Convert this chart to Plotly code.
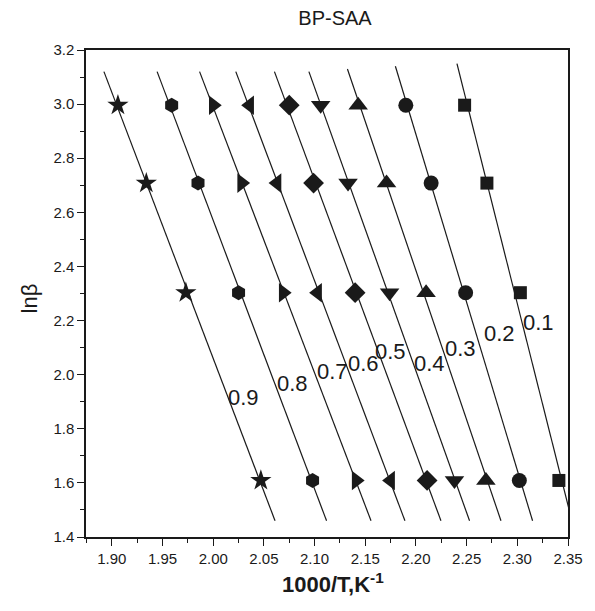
import numpy as np
import plotly.graph_objects as go

# ---- data ----
ln_beta = [2.996, 2.708, 2.303, 1.609]
conversions = ["0.9", "0.8", "0.7", "0.6", "0.5", "0.4", "0.3", "0.2", "0.1"]
x_09 = [1.906, 1.934, 1.973, 2.047]
x_08 = [1.959, 1.985, 2.025, 2.098]
x_07 = [2.000, 2.028, 2.069, 2.141]
x_06 = [2.036, 2.063, 2.103, 2.175]
x_05 = [2.075, 2.099, 2.140, 2.211]
x_04 = [2.106, 2.133, 2.174, 2.238]
x_03 = [2.143, 2.171, 2.210, 2.269]
x_02 = [2.190, 2.215, 2.249, 2.302]
x_01 = [2.248, 2.270, 2.303, 2.341]
series_x = [x_09, x_08, x_07, x_06, x_05, x_04, x_03, x_02, x_01]
symbols = ["star", "hexagon", "triangle-right", "triangle-left", "diamond",
           "triangle-down", "triangle-up", "circle", "square"]
marker_sizes = [16, 15, 17, 17, 16, 17, 17, 15, 13]
# vertical extent of each fitted line (ln beta)
line_top = [3.12, 3.12, 3.12, 3.12, 3.12, 3.12, 3.13, 3.14, 3.15]
line_bottom = [1.46, 1.46, 1.46, 1.46, 1.46, 1.46, 1.46, 1.46, 1.46]
# label anchor positions (x, y)
label_x = [2.030, 2.078, 2.118, 2.148, 2.175, 2.213, 2.244, 2.282, 2.321]
label_y = [1.917, 1.969, 2.010, 2.043, 2.084, 2.043, 2.098, 2.154, 2.194]

x_ticks = [1.90, 1.95, 2.00, 2.05, 2.10, 2.15, 2.20, 2.25, 2.30, 2.35]
y_ticks = [1.4, 1.6, 1.8, 2.0, 2.2, 2.4, 2.6, 2.8, 3.0, 3.2]

FONT = "Liberation Sans, Arial, sans-serif"
INK = "#1a1a1a"

fig = go.Figure()
for xs, sym, ms, yt, yb in zip(series_x, symbols, marker_sizes, line_top, line_bottom):
    # linear fit x = a*y + b
    a, b = np.polyfit(ln_beta, xs, 1)
    ys_line = np.array([yt, yb])
    fig.add_trace(go.Scatter(x=a * ys_line + b, y=ys_line, mode="lines",
                             line=dict(color=INK, width=1.2),
                             showlegend=False, hoverinfo="skip"))
    fig.add_trace(go.Scatter(x=xs, y=ln_beta, mode="markers",
                             marker=dict(symbol=sym, size=ms,
                                         color=INK, line=dict(width=0)),
                             showlegend=False))

for t, lx, ly in zip(conversions, label_x, label_y):
    fig.add_annotation(x=lx, y=ly, text=t, showarrow=False,
                       font=dict(family=FONT, size=22, color=INK),
                       xanchor="center", yanchor="middle")

fig.add_annotation(xref="paper", yref="paper", x=0.512, y=0, yshift=-46,
                   text="<b>1000/T,K<sup>-1</sup></b>", showarrow=False,
                   font=dict(family=FONT, size=22, color=INK),
                   xanchor="center", yanchor="middle")
fig.add_annotation(xref="paper", yref="paper", x=-0.118, y=0.49,
                   text="lnβ", textangle=-90, showarrow=False,
                   font=dict(family=FONT, size=22, color=INK),
                   xanchor="center", yanchor="middle")

fig.update_layout(
    width=595, height=611,
    margin=dict(l=86, r=23, t=50, b=74),
    paper_bgcolor="white", plot_bgcolor="white",
    title=dict(text="BP-SAA", x=0.563, xref="container", xanchor="center",
               y=1 - 18 / 611, yref="container", yanchor="middle",
               font=dict(family=FONT, size=20, color=INK)),
    font=dict(family=FONT, color=INK),
)
fig.update_xaxes(range=[1.8745, 2.35], tickvals=x_ticks, tickformat=".2f",
                 ticks="outside", ticklen=7, tickwidth=1.2, tickcolor=INK,
                 minor=dict(dtick=0.025, tick0=1.9, ticks="outside", ticklen=4,
                            tickcolor=INK, tickwidth=1),
                 showline=True, linecolor=INK, linewidth=1.5, mirror=True,
                 showgrid=False, zeroline=False,
                 tickfont=dict(family=FONT, size=15, color=INK))
fig.update_yaxes(range=[1.4, 3.2], tickvals=y_ticks, tickformat=".1f",
                 ticks="outside", ticklen=7, tickwidth=1.2, tickcolor=INK,
                 minor=dict(dtick=0.1, tick0=1.4, ticks="outside", ticklen=4,
                            tickcolor=INK, tickwidth=1),
                 showline=True, linecolor=INK, linewidth=1.5, mirror=True,
                 showgrid=False, zeroline=False,
                 tickfont=dict(family=FONT, size=15, color=INK))

fig.write_html("out.html")
